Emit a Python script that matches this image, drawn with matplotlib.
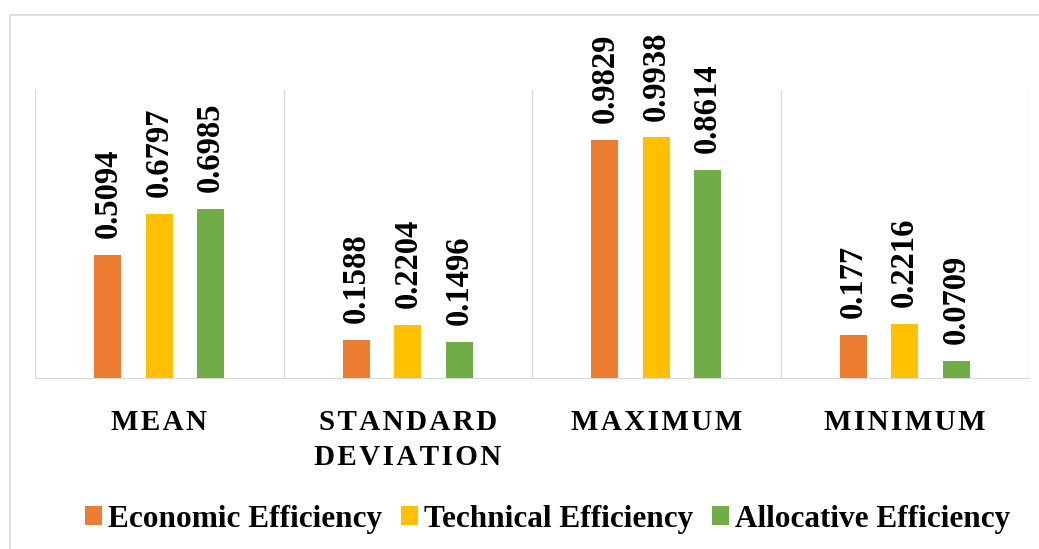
import matplotlib.pyplot as plt
import matplotlib.patches as mpatches
import numpy as np

# data
categories = ['MEAN', 'STANDARD\nDEVIATION', 'MAXIMUM', 'MINIMUM']
series_names = ['Economic Efficiency', 'Technical Efficiency', 'Allocative Efficiency']
economic = [0.5094, 0.1588, 0.9829, 0.177]
technical = [0.6797, 0.2204, 0.9938, 0.2216]
allocative = [0.6985, 0.1496, 0.8614, 0.0709]
value_labels = [['0.5094', '0.1588', '0.9829', '0.177'],
                ['0.6797', '0.2204', '0.9938', '0.2216'],
                ['0.6985', '0.1496', '0.8614', '0.0709']]
colors = ['#ED7D31', '#FFC000', '#70AD47']

plt.rcParams['font.family'] = ['Liberation Serif', 'DejaVu Serif']


def spaced(s):
    # letter-spaced category names (hair space between letters)
    return '\n'.join('\u200a'.join(line) for line in s.split('\n'))


fig = plt.figure(figsize=(10.39, 5.49), dpi=100)
ax = fig.add_axes([35 / 1039, 1 - 378 / 549, 994 / 1039, 288 / 549])

x = np.arange(len(categories))
width = 0.109
offset = 0.207
for i, (vals, c) in enumerate(zip([economic, technical, allocative], colors)):
    pos = x + (i - 1) * offset
    ax.bar(pos, vals, width=width, color=c, label=series_names[i], zorder=3)
    for px, v, lab in zip(pos, vals, value_labels[i]):
        ax.text(px, v + 0.07, lab, rotation=90, ha='center', va='bottom',
                fontsize=23.5, fontweight='bold')

ax.set_xlim(-0.5, len(categories) - 0.5)
ax.set_ylim(0, 1.19)
ax.set_yticks([])
ax.set_xticks(x)
ax.set_xticklabels([spaced(c) for c in categories], fontsize=21,
                   fontweight='bold', linespacing=1.42)
ax.tick_params(axis='x', length=0, pad=22)
for s in ['top', 'right', 'left']:
    ax.spines[s].set_visible(False)
ax.spines['bottom'].set_color('#D9D9D9')
for b in np.arange(-0.5, len(categories), 1.0):
    ax.axvline(b, color='#D9D9D9', lw=1, zorder=1)

# outer chart border
fig.add_artist(mpatches.Rectangle((10 / 1039, -0.05), 1.1, 1.05 - 15 / 549,
                                  transform=fig.transFigure, fill=False,
                                  edgecolor='#D9D9D9', lw=1.2))

fig.legend(loc='center', bbox_to_anchor=(0.527, 1 - 519 / 549), ncol=3,
           frameon=False, prop={'weight': 'bold', 'size': 22.5},
           handlelength=0.55, handleheight=0.55, handletextpad=0.2,
           columnspacing=0.6)

fig.savefig('out.png', dpi=100)
